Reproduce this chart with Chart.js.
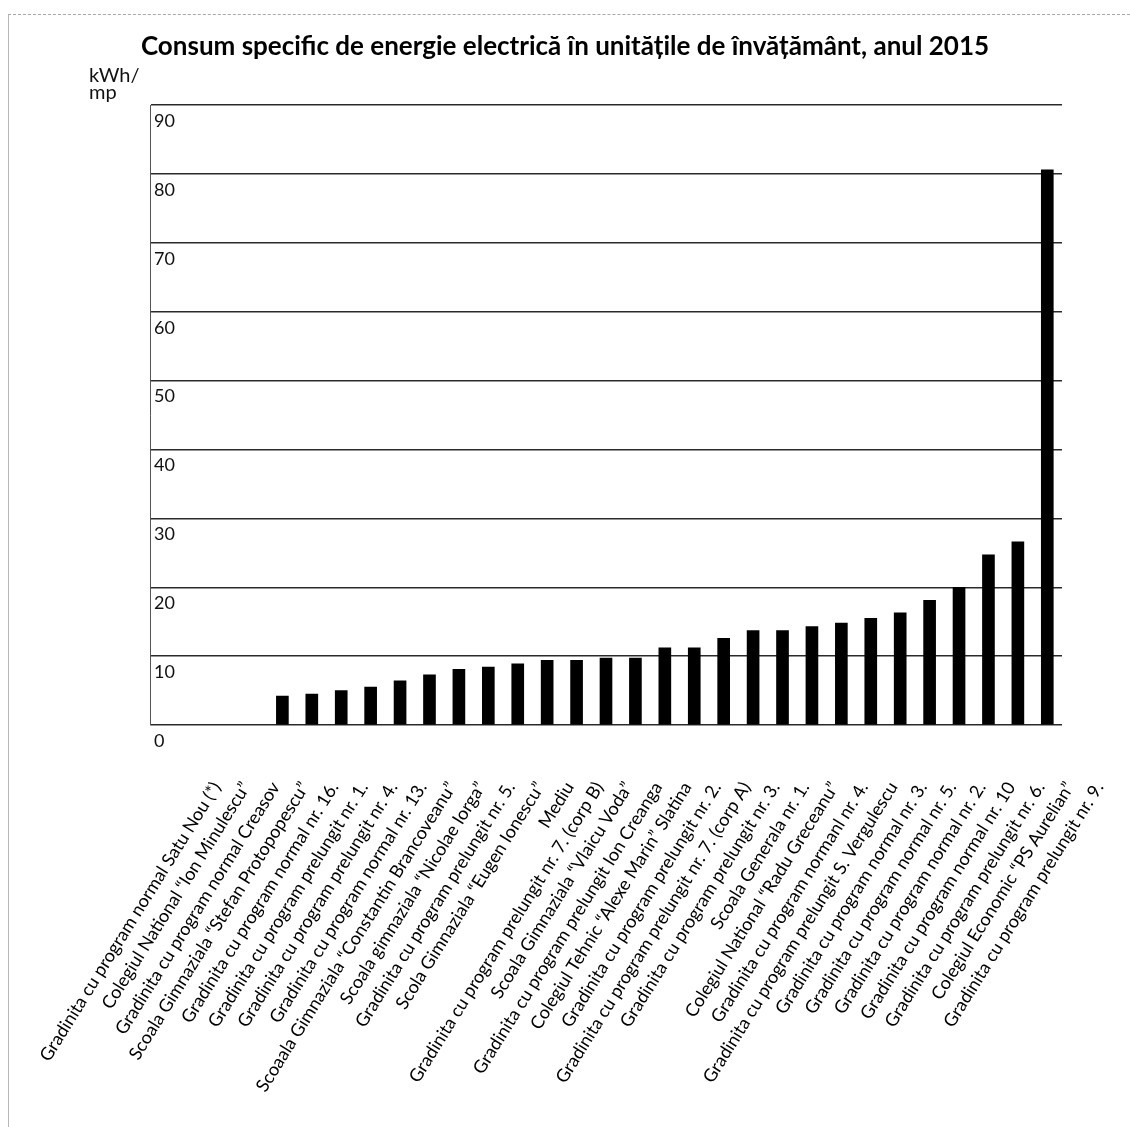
<!DOCTYPE html>
<html lang="ro">
<head>
<meta charset="utf-8">
<title>Consum specific de energie electrică</title>
<script src="https://cdn.jsdelivr.net/npm/chart.js@4/dist/chart.umd.min.js"></script>
<style>
    html, body { margin: 0; padding: 0; background: #fff; }
    #page { position: relative; width: 1130px; height: 1127px; overflow: hidden; }
    #frame {
        position: absolute; left: 8px; top: 14px; right: 0; bottom: 0;
        border-top: 1px dashed #a8a8a8; border-left: 1px solid #b8b8b8;
        pointer-events: none;
    }
    #chart { position: absolute; left: 0; top: 0; }
</style>
</head>
<body>
<div id="page">
    <div id="frame"></div>
    <canvas id="chart" width="1130" height="1127"></canvas>
</div>
<script>
const TITLE = 'Consum specific de energie electrică în unitățile de învățământ, anul 2015';
const UNIT = ['kWh/', 'mp'];

const unitati = [
    'Gradinita cu program normal Satu Nou (*)',
    'Colegiul National “Ion Minulescu”',
    'Gradinita cu program normal Creasov',
    'Scoala Gimnaziala “Stefan Protopopescu”',
    'Gradinita cu program normal nr. 16.',
    'Gradinita cu program prelungit nr. 1.',
    'Gradinita cu program prelungit nr. 4.',
    'Gradinita cu program normal nr. 13.',
    'Scoaala Gimnaziala “Constantin Brancoveanu”',
    'Scoala gimnaziala “Nicolae Iorga”',
    'Gradinita cu program prelungit nr. 5.',
    'Scola Gimnaziala “Eugen Ionescu”',
    'Mediu',
    'Gradinita cu program prelungit nr. 7. (corp B)',
    'Scoala Gimnaziala “Vlaicu Voda”',
    'Gradinita cu program prelungit Ion Creanga',
    'Colegiul Tehnic “Alexe Marin” Slatina',
    'Gradinita cu program prelungit nr. 2.',
    'Gradinita cu program prelungit nr. 7. (corp A)',
    'Gradinita cu program prelungit nr. 3.',
    'Scoala Generala nr. 1.',
    'Colegiul National “Radu Greceanu”',
    'Gradinita cu program normanl nr. 4.',
    'Gradinita cu program prelungit S. Vergulescu',
    'Gradinita cu program normal nr. 3.',
    'Gradinita cu program normal nr. 5.',
    'Gradinita cu program normal nr. 2.',
    'Gradinita cu program normal nr. 10',
    'Gradinita cu program prelungit nr. 6.',
    'Colegiul Economic “PS Aurelian”',
    'Gradinita cu program prelungit nr. 9.',
];

// kWh/mp; primele patru unitati nu au valoare
const consum = [
    null, null, null, null,
    4.2, 4.5, 5.0, 5.5, 6.4, 7.3, 8.1, 8.4, 8.9,
    9.4, 9.4, 9.7, 9.7, 11.2, 11.2, 12.6, 13.7, 13.7,
    14.3, 14.8, 15.5, 16.3, 18.1, 20.0, 24.7, 26.6, 80.6,
];

const Y_MAX = 90;
const Y_STEP = 10;

const FONT = 'Lato, "Open Sans", sans-serif';

// eticheta unitatii de masura, deasupra axei verticale
const unitLabel = {
    id: 'unitLabel',
    afterDraw(chart) {
        const { ctx, chartArea } = chart;
        ctx.save();
        ctx.font = '20px ' + FONT;
        ctx.fillStyle = '#111';
        ctx.textAlign = 'left';
        ctx.textBaseline = 'alphabetic';
        UNIT.forEach((line, i) => {
            ctx.fillText(line, chartArea.left - 61, chartArea.top - 23 + i * 17);
        });
        ctx.restore();
    },
};

new Chart(document.getElementById('chart'), {
    type: 'bar',
    data: {
        labels: unitati,
        datasets: [{
            label: 'kWh/mp',
            data: consum,
            backgroundColor: '#000',
            borderWidth: 0,
            barThickness: 12,
        }],
    },
    options: {
        responsive: false,
        animation: false,
        layout: { padding: { left: 68, right: 68, top: 0, bottom: 0 } },
        plugins: {
            legend: { display: false },
            tooltip: { enabled: false },
            title: {
                display: true,
                text: TITLE,
                color: '#000',
                font: { family: FONT, size: 26, weight: 'bold', lineHeight: 1.2 },
                padding: { top: 31, bottom: 43 },
            },
        },
        scales: {
            x: {
                grid: { display: false, drawTicks: false },
                border: { display: false },
                ticks: {
                    autoSkip: false,
                    minRotation: 58,
                    maxRotation: 58,
                    labelOffset: 52,
                    padding: 53,
                    color: '#000',
                    font: { family: FONT, size: 18 },
                },
                afterFit(scale) {
                    scale.height = 402;
                    scale.paddingLeft = 0;
                    scale.paddingRight = 0;
                },
            },
            y: {
                min: 0,
                max: Y_MAX,
                grid: { color: '#2a2a2a', lineWidth: 1.5, drawTicks: false },
                border: { display: true, color: '#555', width: 1 },
                ticks: {
                    stepSize: Y_STEP,
                    mirror: true,
                    padding: 4,
                    labelOffset: 16,
                    color: '#111',
                    font: { family: FONT, size: 18 },
                },
                afterFit(scale) {
                    scale.width = 82;
                    scale.paddingTop = 0;
                    scale.paddingBottom = 0;
                },
            },
        },
    },
    plugins: [unitLabel],
});
</script>
</body>
</html>
